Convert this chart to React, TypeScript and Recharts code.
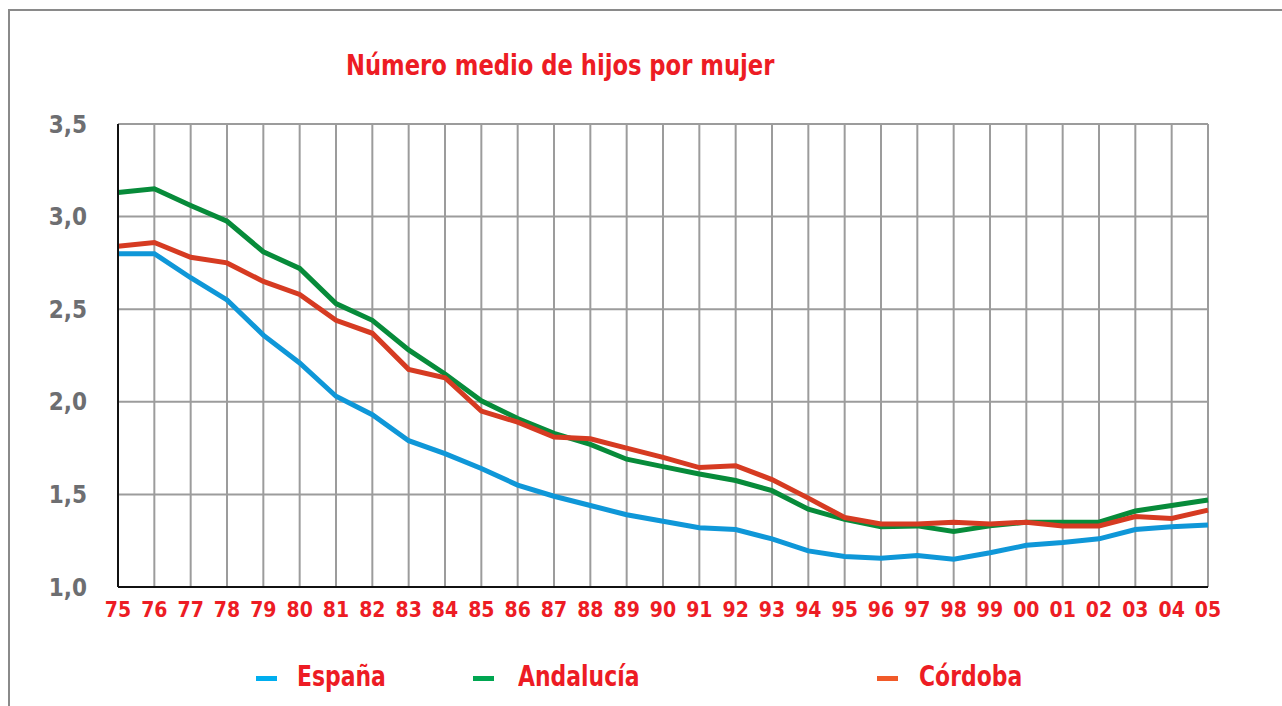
import React from 'react';
import { LineChart, Line, XAxis, YAxis, CartesianGrid } from 'recharts';

const years = ['75','76','77','78','79','80','81','82','83','84','85','86','87','88','89','90','91','92','93','94','95','96','97','98','99','00','01','02','03','04','05'];
const espana = [2.80,2.80,2.67,2.55,2.36,2.21,2.03,1.93,1.79,1.72,1.64,1.55,1.49,1.44,1.39,1.355,1.32,1.31,1.26,1.195,1.165,1.155,1.17,1.15,1.185,1.225,1.24,1.26,1.31,1.325,1.335];
const andalucia = [3.13,3.15,3.06,2.975,2.81,2.72,2.53,2.44,2.28,2.15,2.005,1.91,1.83,1.77,1.69,1.65,1.61,1.575,1.52,1.42,1.365,1.325,1.33,1.30,1.33,1.35,1.35,1.35,1.41,1.44,1.47];
const cordoba = [2.84,2.86,2.78,2.75,2.65,2.58,2.44,2.37,2.175,2.13,1.95,1.89,1.81,1.80,1.75,1.70,1.645,1.655,1.58,1.48,1.375,1.34,1.34,1.35,1.34,1.35,1.33,1.33,1.38,1.37,1.415];
const yTicks = [1.0, 1.5, 2.0, 2.5, 3.0, 3.5];
const seriesNames = ['España', 'Andalucía', 'Córdoba'];
const seriesKeys = ['espana', 'andalucia', 'cordoba'];
const lineColors = ['#0f97d8', '#078b3a', '#d63b22'];
const legendColors = ['#00aeef', '#00a651', '#f15a29'];
const titleText = 'Número medio de hijos por mujer';

const data = years.map((y, i) => ({ year: y, espana: espana[i], andalucia: andalucia[i], cordoba: cordoba[i] }));

const FONT = '"DejaVu Sans Condensed", "Open Sans", sans-serif';
const RED = '#ed1c24';

const legendLeft = [256, 473, 877];
const legendTextLeft = [297, 518, 919];

function LegendBlock() {
  return (
    <div style={{ position: 'absolute', left: 0, top: 652, width: 1282, height: 50 }}>
      {seriesNames.map((name, i) => (
        <React.Fragment key={name}>
          <div style={{ position: 'absolute', left: legendLeft[i], top: 24, width: 21, height: 5, background: legendColors[i] }} />
          <div style={{ position: 'absolute', left: legendTextLeft[i], top: 6, fontFamily: FONT, fontWeight: 700, fontSize: 29, color: RED, lineHeight: '36px', whiteSpace: 'nowrap', transform: 'scaleX(0.84)', transformOrigin: '0 0' }}>{name}</div>
        </React.Fragment>
      ))}
    </div>
  );
}

export default function App() {
  return (
    <div style={{ position: 'absolute', left: 0, top: 0, width: 1282, height: 706, background: '#fff', overflow: 'hidden' }}>
      <div style={{ position: 'absolute', left: 8, top: 9, right: 0, bottom: 0, borderTop: '2px solid #8a8a8a', borderLeft: '2px solid #8a8a8a' }} />
      <div style={{ position: 'absolute', left: 346, top: 46, fontFamily: FONT, fontWeight: 700, fontSize: 28, color: RED, whiteSpace: 'nowrap', lineHeight: '40px', transform: 'scaleX(0.9)', transformOrigin: '0 0' }}>{titleText}</div>
      <LineChart width={1282} height={706} data={data} margin={{ top: 124, right: 74, bottom: 0, left: 0 }} style={{ position: 'absolute', left: 0, top: 0 }}>
        <CartesianGrid stroke="#9c9c9c" strokeWidth={2} vertical={true} horizontal={true} />
        <XAxis dataKey="year" interval={0} tickLine={false} axisLine={{ stroke: '#111', strokeWidth: 2 }} tickSize={0} tickMargin={15}
          tick={{ fill: RED, fontSize: 21, fontWeight: 700, fontFamily: FONT }} height={119} />
        <YAxis type="number" domain={[1, 3.5]} ticks={yTicks} width={118} tickLine={false} axisLine={{ stroke: '#111', strokeWidth: 2 }} tickSize={0} tickMargin={31}
          tickFormatter={(v: number) => v.toFixed(1).replace('.', ',')}
          tick={{ fill: '#6d6e71', fontSize: 24, fontWeight: 700, fontFamily: FONT }} />
        {seriesKeys.map((k, i) => (
          <Line key={k} dataKey={k} name={seriesNames[i]} stroke={lineColors[i]} strokeWidth={5} dot={false} activeDot={false} isAnimationActive={false} strokeLinejoin="miter" />
        ))}
      </LineChart>
      <LegendBlock />
    </div>
  );
}
